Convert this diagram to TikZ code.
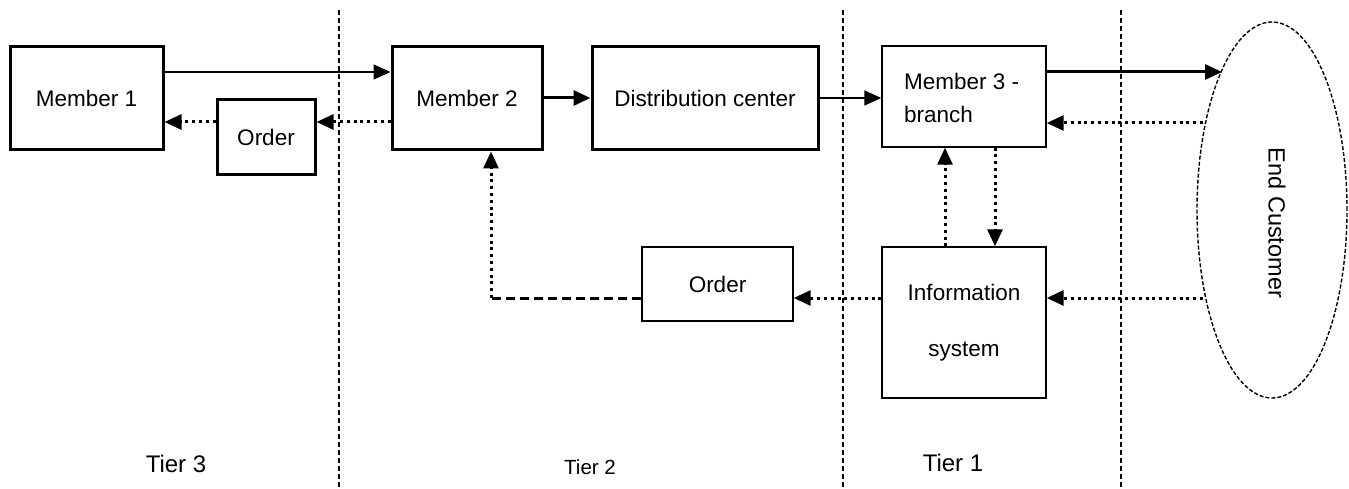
\documentclass[tikz,border=0pt]{standalone}
\usepackage{fontspec}
\setmainfont{Liberation Sans}
\usetikzlibrary{arrows.meta,shapes.geometric}
\begin{document}
\begin{tikzpicture}[x=1pt,y=-1pt,
  thickbox/.style={draw,line width=3pt,inner sep=0pt,font=\fontsize{22.5}{26}\selectfont},
  thinbox/.style={draw,line width=1.4pt,inner sep=0pt,font=\fontsize{22.5}{26}\selectfont},
  tip/.style={-{Triangle[length=17pt,width=15pt]}},
  solidthin/.style={tip,line width=1.5pt},
  solidthick/.style={tip,line width=3pt},
  dotline/.style={line width=3pt,dash pattern=on 3pt off 3.8pt},
  dotarrow/.style={tip,dotline},
  dashline/.style={line width=3pt,dash pattern=on 9pt off 5pt},
  divider/.style={line width=1.2pt,dash pattern=on 5pt off 3pt},
  tierlabel/.style={inner sep=0pt}
]
\useasboundingbox (0,0) rectangle (1349,489);
% dividers
\coordinate (d1t) at (339,10); \coordinate (d1b) at (339,489);
\coordinate (d2t) at (843,10); \coordinate (d2b) at (843,489);
\coordinate (d3t) at (1121,10); \coordinate (d3b) at (1121,489);
\draw[divider] (d1t) -- (d1b);
\draw[divider] (d2t) -- (d2b);
\draw[divider] (d3t) -- (d3b);
% row coordinates
\coordinate (r72) at (0,72);
\coordinate (r98) at (0,98);
\coordinate (r122) at (0,122);
\coordinate (r123) at (0,123);
\coordinate (r298) at (0,298);
% nodes
\node[thickbox,minimum width=153pt,minimum height=103pt] (m1) at (86.5,98.5) {Member 1};
\node[thickbox,minimum width=98pt,minimum height=75pt] (o1) at (266,137.5) {Order};
\node[thickbox,minimum width=150pt,minimum height=103pt] (m2) at (467,98.5) {Member 2};
\node[thickbox,minimum width=226pt,minimum height=103pt] (dc) at (705,98.5) {Distribution center};
\node[thinbox,minimum width=164pt,minimum height=101pt] (m3) at (964,96.5) {};
\node[anchor=west,align=left,inner sep=0pt,font=\fontsize{22.5}{33}\selectfont] (m3t) at (904,98) {Member 3 -\\branch};
\node[thinbox,minimum width=164pt,minimum height=151pt,align=center,font=\fontsize{22.5}{56}\selectfont] (is) at (964,322.5) {Information\\system};
\node[thinbox,minimum width=151pt,minimum height=74pt] (o2) at (717.5,284) {Order};
\node[draw,ellipse,line width=1.4pt,dash pattern=on 4pt off 2pt,minimum width=150pt,minimum height=376pt,inner sep=0pt] (ec) at (1272,210) {};
\node[rotate=-90,font=\fontsize{23.5}{27}\selectfont,inner sep=0pt] (ect) at (1277,223) {End Customer};
% tier labels
\node[tierlabel,font=\fontsize{24}{28}\selectfont] (t3) at (176,464) {Tier 3};
\node[tierlabel,font=\fontsize{20.5}{24}\selectfont] (t2) at (590,467) {Tier 2};
\node[tierlabel,font=\fontsize{24}{28}\selectfont] (t1) at (953,463) {Tier 1};
% connectors
\draw[solidthin] (m1.east |- r72) -- (m2.west |- r72);
\draw[dotarrow] (m2.west |- r122) -- (o1.east |- r122);
\draw[dotarrow] (o1.west |- r122) -- (m1.east |- r122);
\draw[solidthick] (m2.east |- r98) -- (dc.west |- r98);
\draw[solidthin] (dc.east |- r98) -- (m3.west |- r98);
\coordinate (ecA) at (1222,72);
\coordinate (ecB) at (1203,123);
\coordinate (ecC) at (1203,298);
\draw[solidthick] (m3.east |- r72) -- (ecA);
\draw[dotarrow] (ecB) -- (m3.east |- r123);
\draw[dotarrow] (ecC) -- (is.east |- r298);
\coordinate (x995) at (995,0);
\coordinate (x945) at (945,0);
\draw[dotarrow] (m3.south -| x995) -- (is.north -| x995);
\draw[dotarrow] (is.north -| x945) -- (m3.south -| x945);
\draw[dotarrow] (is.west |- r298) -- (o2.east |- r298);
\coordinate (bend) at (491,298);
\draw[dashline] (o2.west |- r298) -- (bend);
\draw[dotarrow] (bend) -- (m2.south -| bend);
\end{tikzpicture}
\end{document}
